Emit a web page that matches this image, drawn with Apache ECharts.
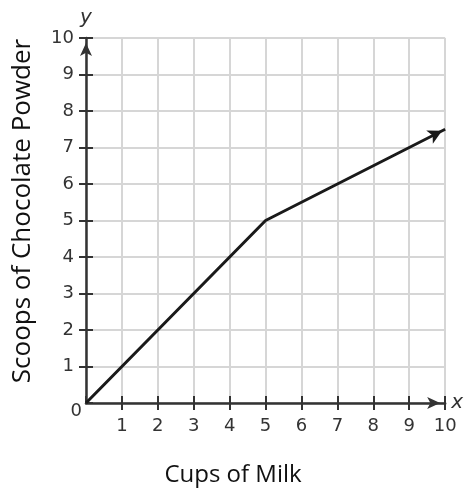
<!DOCTYPE html>
<html>
<head>
<meta charset="utf-8">
<script src="https://cdn.jsdelivr.net/npm/echarts@6/dist/echarts.min.js"></script>
<style>
  html, body { margin: 0; padding: 0; background: #fff; }
  #chart { width: 466px; height: 493px; }
</style>
</head>
<body>
<div id="chart"></div>
<script>
// cups of milk -> scoops of chocolate powder
const cupsOfMilk = [0, 5, 10]
const scoops = [0, 5, 7.5]
const axisMin = 0
const axisMax = 10
const tickStep = 1

const xTitle = 'Cups of Milk'
const yTitle = 'Scoops of Chocolate Powder'

const chart = echarts.init(document.getElementById('chart'))

const labelFont = 'DejaVu Sans'
const labelColor = '#333'
const gridColor = '#d6d6d6'
const axisColor = '#333'

function baseAxis(extra) {
  return Object.assign({
    type: 'value',
    min: axisMin,
    max: axisMax,
    interval: tickStep
  }, extra)
}

// slope of last segment in pixels for the arrow head
const lastDx = (cupsOfMilk[2] - cupsOfMilk[1]) * 36.2
const lastDy = (scoops[2] - scoops[1]) * 36.5
const angle = Math.atan2(lastDy, lastDx)
const arrowLen = 14

const option = {
  backgroundColor: '#fff',
  animation: false,
  grid: {
    left: 86,
    right: 18,
    top: 38,
    bottom: 90,
    containLabel: false
  },
  xAxis: [
    baseAxis({
      position: 'bottom',
      name: 'x',
      nameLocation: 'end',
      nameGap: 6,
      nameTextStyle: {
        fontFamily: labelFont,
        fontStyle: 'italic',
        fontSize: 20,
        color: labelColor,
        verticalAlign: 'middle'
      },
      axisLine: {
        show: true,
        symbol: ['none', 'arrow'],
        symbolSize: [9, 13],
        symbolOffset: [0, -5],
        lineStyle: { color: axisColor, width: 2.5 }
      },
      axisTick: { show: true, inside: false, length: 7, lineStyle: { color: axisColor, width: 2 } },
      axisLabel: {
        margin: 14,
        fontFamily: labelFont,
        fontSize: 18,
        color: labelColor,
        showMinLabel: false,
        showMaxLabel: true
      },
      splitLine: { show: true, lineStyle: { color: gridColor, width: 2 } }
    }),
    baseAxis({
      position: 'bottom',
      axisLine: { show: false },
      axisTick: { show: true, inside: true, length: 7, lineStyle: { color: axisColor, width: 2 } },
      axisLabel: { show: false },
      splitLine: { show: false }
    })
  ],
  yAxis: [
    baseAxis({
      position: 'left',
      name: 'y',
      nameLocation: 'end',
      nameGap: 10,
      nameTextStyle: {
        fontFamily: labelFont,
        fontStyle: 'italic',
        fontSize: 20,
        color: labelColor,
        align: 'center'
      },
      axisLine: {
        show: true,
        symbol: ['none', 'arrow'],
        symbolSize: [9, 13],
        symbolOffset: [0, -5],
        lineStyle: { color: axisColor, width: 2.5 }
      },
      axisTick: { show: true, inside: false, length: 7, lineStyle: { color: axisColor, width: 2 } },
      axisLabel: {
        margin: 12,
        fontFamily: labelFont,
        fontSize: 18,
        color: labelColor,
        showMinLabel: false
      },
      splitLine: { show: true, lineStyle: { color: gridColor, width: 2 } }
    }),
    baseAxis({
      position: 'left',
      axisLine: { show: false },
      axisTick: { show: true, inside: true, length: 7, lineStyle: { color: axisColor, width: 2 } },
      // origin label sits just below-left of the corner
      axisLabel: {
        show: true,
        margin: 4,
        formatter(v) {
          return v === 0 ? '{z|0}' : ''
        },
        rich: {
          z: {
            fontFamily: labelFont,
            fontSize: 18,
            color: labelColor,
            padding: [16, 0, 0, 0]
          }
        }
      },
      splitLine: { show: false }
    })
  ],
  graphic: [
    {
      type: 'text',
      x: 233,
      y: 475,
      style: {
        text: xTitle,
        font: '24px "Open Sans"',
        fill: '#111',
        align: 'center',
        verticalAlign: 'middle'
      }
    },
    {
      type: 'text',
      x: 23,
      y: 211,
      rotation: Math.PI / 2,
      style: {
        text: yTitle,
        font: '26px "Open Sans"',
        fill: '#111',
        align: 'center',
        verticalAlign: 'middle'
      }
    }
  ],
  series: [
    {
      type: 'line',
      xAxisIndex: 0,
      yAxisIndex: 0,
      showSymbol: true,
      showAllSymbol: true,
      symbol: 'arrow',
      symbolSize: [11, arrowLen],
      symbolRotate: -(90 - angle * 180 / Math.PI),
      symbolOffset: [-Math.cos(angle) * arrowLen / 4, Math.sin(angle) * arrowLen / 4],
      itemStyle: { color: '#1a1a1a' },
      lineStyle: { color: '#1a1a1a', width: 3 },
      data: cupsOfMilk.map((c, i) => {
        const item = { value: [c, scoops[i]] }
        if (i < cupsOfMilk.length - 1) item.symbol = 'none'
        return item
      })
    }
  ]
}

chart.setOption(option)
</script>
</body>
</html>
